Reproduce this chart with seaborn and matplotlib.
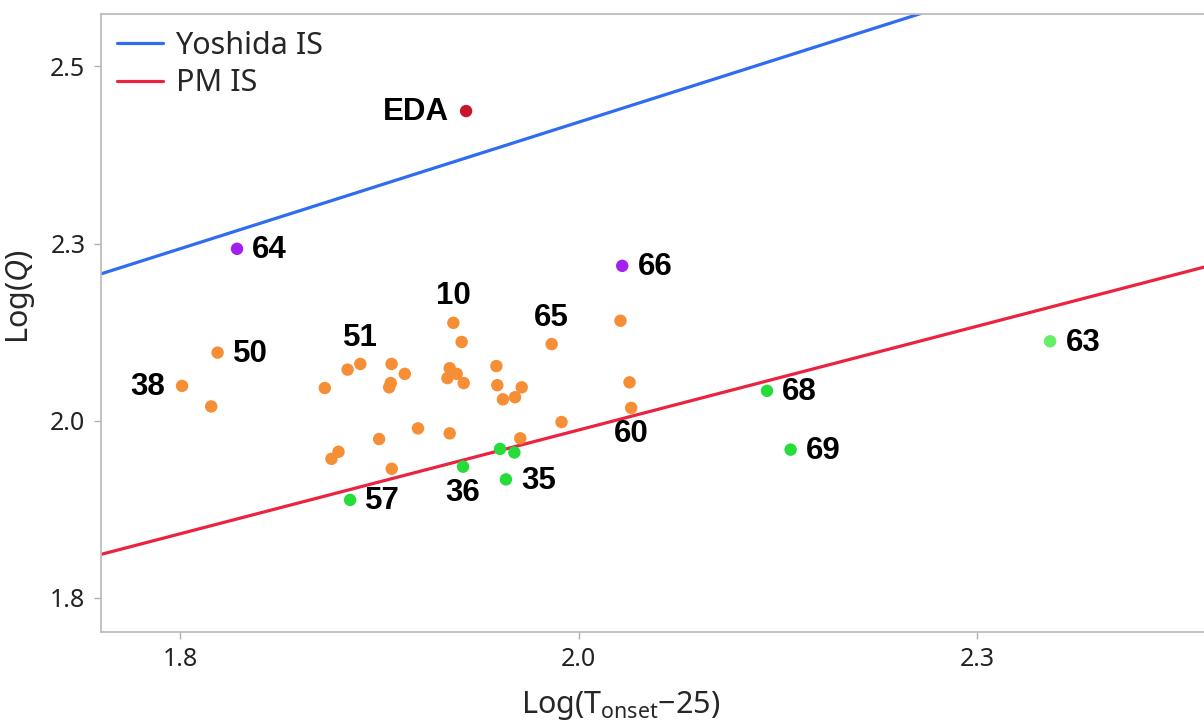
import pandas as pd
import matplotlib
matplotlib.use("Agg")
import matplotlib.pyplot as plt
import seaborn as sns
from matplotlib.ticker import FormatStrFormatter

# scatter points: log(T_onset - 25) vs log(Q)
x_vals = [1.8234, 1.8011, 1.8194, 1.8907, 1.9050, 1.9130, 1.9326, 1.9409, 1.9321, 1.9311,
          1.9714, 1.9766, 1.9691, 1.9735, 1.9677, 1.9779, 1.9984, 1.9990, 2.0025, 2.0101,
          2.0143, 2.0331, 2.0763, 2.0820, 2.0830, 2.0393, 2.0134, 1.9691, 1.9492, 1.9248,
          1.8993, 1.8949, 1.9327,
          1.9066, 1.9775, 2.0007, 2.0097, 2.0044, 2.1683, 2.1831,
          2.3460,
          1.8356, 2.0774,
          1.9794]
y_vals = [2.146, 2.099, 2.070, 2.096, 2.122, 2.130, 2.130, 2.116, 2.103, 2.097,
          2.188, 2.161, 2.124, 2.116, 2.110, 2.103, 2.127, 2.100, 2.080, 2.083,
          2.097, 2.158, 2.191, 2.104, 2.068, 2.048, 2.025, 2.032, 2.039, 2.024,
          2.006, 1.996, 1.982,
          1.938, 1.985, 2.010, 2.005, 1.967, 2.092, 2.009,
          2.162,
          2.2925, 2.2685,
          2.487]
groups = ["between"] * 33 + ["below"] * 7 + ["far"] + ["above"] * 2 + ["EDA"]
labels = ["50", "38", "", "", "", "51", "", "", "", "",
          "10", "", "", "", "", "", "", "", "", "",
          "", "65", "", "", "60", "", "", "", "", "",
          "", "", "",
          "57", "36", "", "", "35", "68", "69",
          "63",
          "64", "66",
          "EDA"]

# reference lines (end points over the x range)
line_x = [1.75, 2.45]
yoshida_y = [2.257, 2.757]
pm_y = [1.861, 2.271]

palette = {"between": "#f68e35", "below": "#25dc3a", "far": "#66ee66",
           "above": "#a21ff0", "EDA": "#c8162c"}

df = pd.DataFrame({"x": x_vals, "y": y_vals, "group": groups, "label": labels})

sns.set_style("white")
plt.rcParams["font.family"] = ["Noto Sans", "DejaVu Sans"]
plt.rcParams["mathtext.fontset"] = "custom"
plt.rcParams["mathtext.rm"] = "Noto Sans"
plt.rcParams["mathtext.it"] = "Noto Sans:italic"

fig = plt.figure(figsize=(12.04, 7.26), dpi=100)
ax = fig.add_axes([0.0836, 0.1299, 0.9262, 0.8508])

sns.lineplot(x=line_x, y=yoshida_y, color="#2f6cf2", linewidth=2.3, label="Yoshida IS", ax=ax)
sns.lineplot(x=line_x, y=pm_y, color="#ea2440", linewidth=2.3, label="PM IS", ax=ax)
sns.scatterplot(data=df, x="x", y="y", hue="group", palette=palette, s=80,
                edgecolor="none", legend=False, ax=ax, zorder=3)

# where each point label sits relative to its point
place = {"EDA": "left", "38": "left", "51": "above", "10": "above", "65": "above",
         "60": "below", "36": "below"}
for _, r in df[df["label"] != ""].iterrows():
    side = place.get(r["label"], "right")
    off, ha, va = {"right": ((11, -1), "left", "center"),
                   "left": ((-12, -1), "right", "center"),
                   "above": ((0, 19), "center", "center"),
                   "below": ((0, -19), "center", "center")}[side]
    ax.annotate(r["label"], (r["x"], r["y"]), xytext=off, textcoords="offset points",
                ha=ha, va=va, fontsize=22.5, fontweight="bold",
                family="Liberation Sans", color="black")

ax.set_xlim(1.75, 2.45)
ax.set_ylim(1.752, 2.624)
ax.set_xticks([1.8, 2.05, 2.3])
ax.set_yticks([1.8, 2.05, 2.3, 2.55])
ax.xaxis.set_major_formatter(FormatStrFormatter("%.1f"))
ax.yaxis.set_major_formatter(FormatStrFormatter("%.1f"))
ax.tick_params(axis="both", which="major", direction="out", length=5, width=1,
               color="#b0b0b0", labelsize=18, labelcolor="#222222", pad=6,
               bottom=True, left=True)
for sp in ax.spines.values():
    sp.set_color("#bdbdbd")
    sp.set_linewidth(1.3)

ax.set_xlabel("Log(T$_{\\rm onset}$\u221225)", fontsize=22)
ax.set_ylabel("Log($\\it{Q}$)", fontsize=22)
ax.xaxis.set_label_coords(0.466, -0.093)
ax.yaxis.set_label_coords(-0.057, 0.542)

leg = ax.legend(loc="upper left", frameon=False, fontsize=22, handlelength=1.5,
                handletextpad=0.4, labelspacing=0.25, borderaxespad=0.15)

fig.savefig("out.png", dpi=100)
